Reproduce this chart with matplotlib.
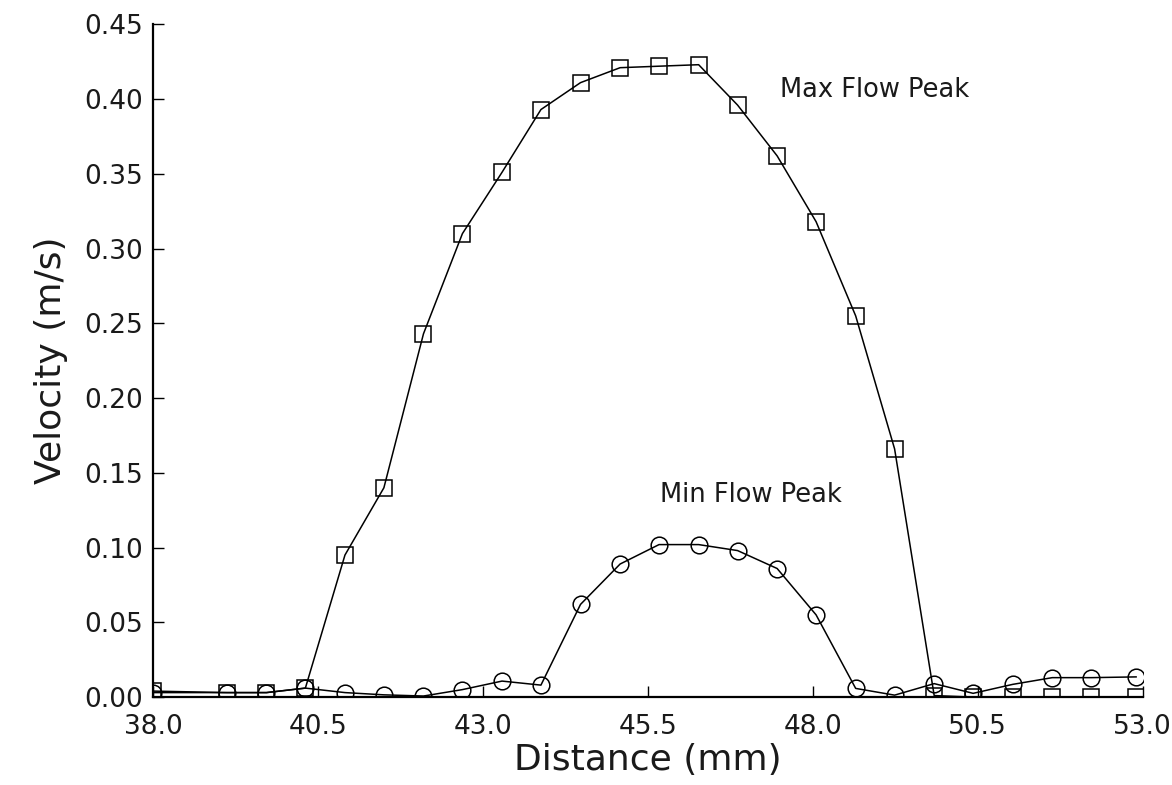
import numpy as np
import matplotlib
matplotlib.use('Agg')
import matplotlib.pyplot as plt

# distance (mm) of sample points
distance = [38.0, 39.12, 39.72, 40.31, 40.91, 41.50, 42.10, 42.69, 43.29, 43.88,
            44.48, 45.08, 45.67, 46.27, 46.86, 47.46, 48.05, 48.65, 49.24,
            49.84, 50.43, 51.03, 51.63, 52.22, 52.90]

# max flow peak velocity (m/s) - squares
max_flow = [0.004, 0.003, 0.003, 0.006, 0.095, 0.140, 0.243, 0.310, 0.351, 0.393,
            0.411, 0.421, 0.422, 0.423, 0.396, 0.362, 0.318, 0.255, 0.166,
            0.001, 0.000, 0.000, 0.000, 0.000, 0.000]

# min flow peak velocity (m/s) - circles
min_flow = [0.003, 0.003, 0.003, 0.006, 0.003, 0.0015, 0.0007, 0.005, 0.0107, 0.008,
            0.062, 0.089, 0.102, 0.102, 0.098, 0.086, 0.055, 0.0058, 0.0013,
            0.009, 0.0025, 0.0085, 0.013, 0.013, 0.0135]

x_ticks = [38.0, 40.5, 43.0, 45.5, 48.0, 50.5, 53.0]
y_ticks = [0.00, 0.05, 0.10, 0.15, 0.20, 0.25, 0.30, 0.35, 0.40, 0.45]

txt = '#1a1a1a'

fig = plt.figure(figsize=(11.72, 7.85), dpi=100)
ax = fig.add_axes([0.1305, 0.112, 0.8445, 0.857])

ax.plot(distance, max_flow, color='black', linewidth=1.1, marker='s', markersize=11,
        markerfacecolor='none', markeredgecolor='black', markeredgewidth=1.1)
ax.plot(distance, min_flow, color='black', linewidth=1.1, marker='o', markersize=12,
        markerfacecolor='none', markeredgecolor='black', markeredgewidth=1.1)

ax.set_xlim(38.0, 53.0)
ax.set_ylim(0.0, 0.45)
ax.set_xticks(x_ticks)
ax.set_yticks(y_ticks)
ax.set_xticklabels([f'{v:.1f}' for v in x_ticks], fontsize=19)
ax.set_yticklabels([f'{v:.2f}' for v in y_ticks], fontsize=19)

ax.spines['top'].set_visible(False)
ax.spines['right'].set_visible(False)
ax.spines['left'].set_linewidth(1.6)
ax.spines['bottom'].set_linewidth(1.6)
ax.tick_params(direction='in', length=8, width=1.0, labelcolor=txt)
ax.tick_params(axis='y', pad=7)
ax.tick_params(axis='x', pad=12)

ax.set_xlabel('Distance (mm)', fontsize=26, labelpad=2, color=txt)
ax.set_ylabel('Velocity (m/s)', fontsize=26, labelpad=12, color=txt)

ax.text(47.5, 0.406, 'Max Flow Peak', fontsize=18.5, va='center', ha='left', color=txt)
ax.text(45.68, 0.135, 'Min Flow Peak', fontsize=18.5, va='center', ha='left', color=txt)

fig.savefig('out.png', dpi=100)
